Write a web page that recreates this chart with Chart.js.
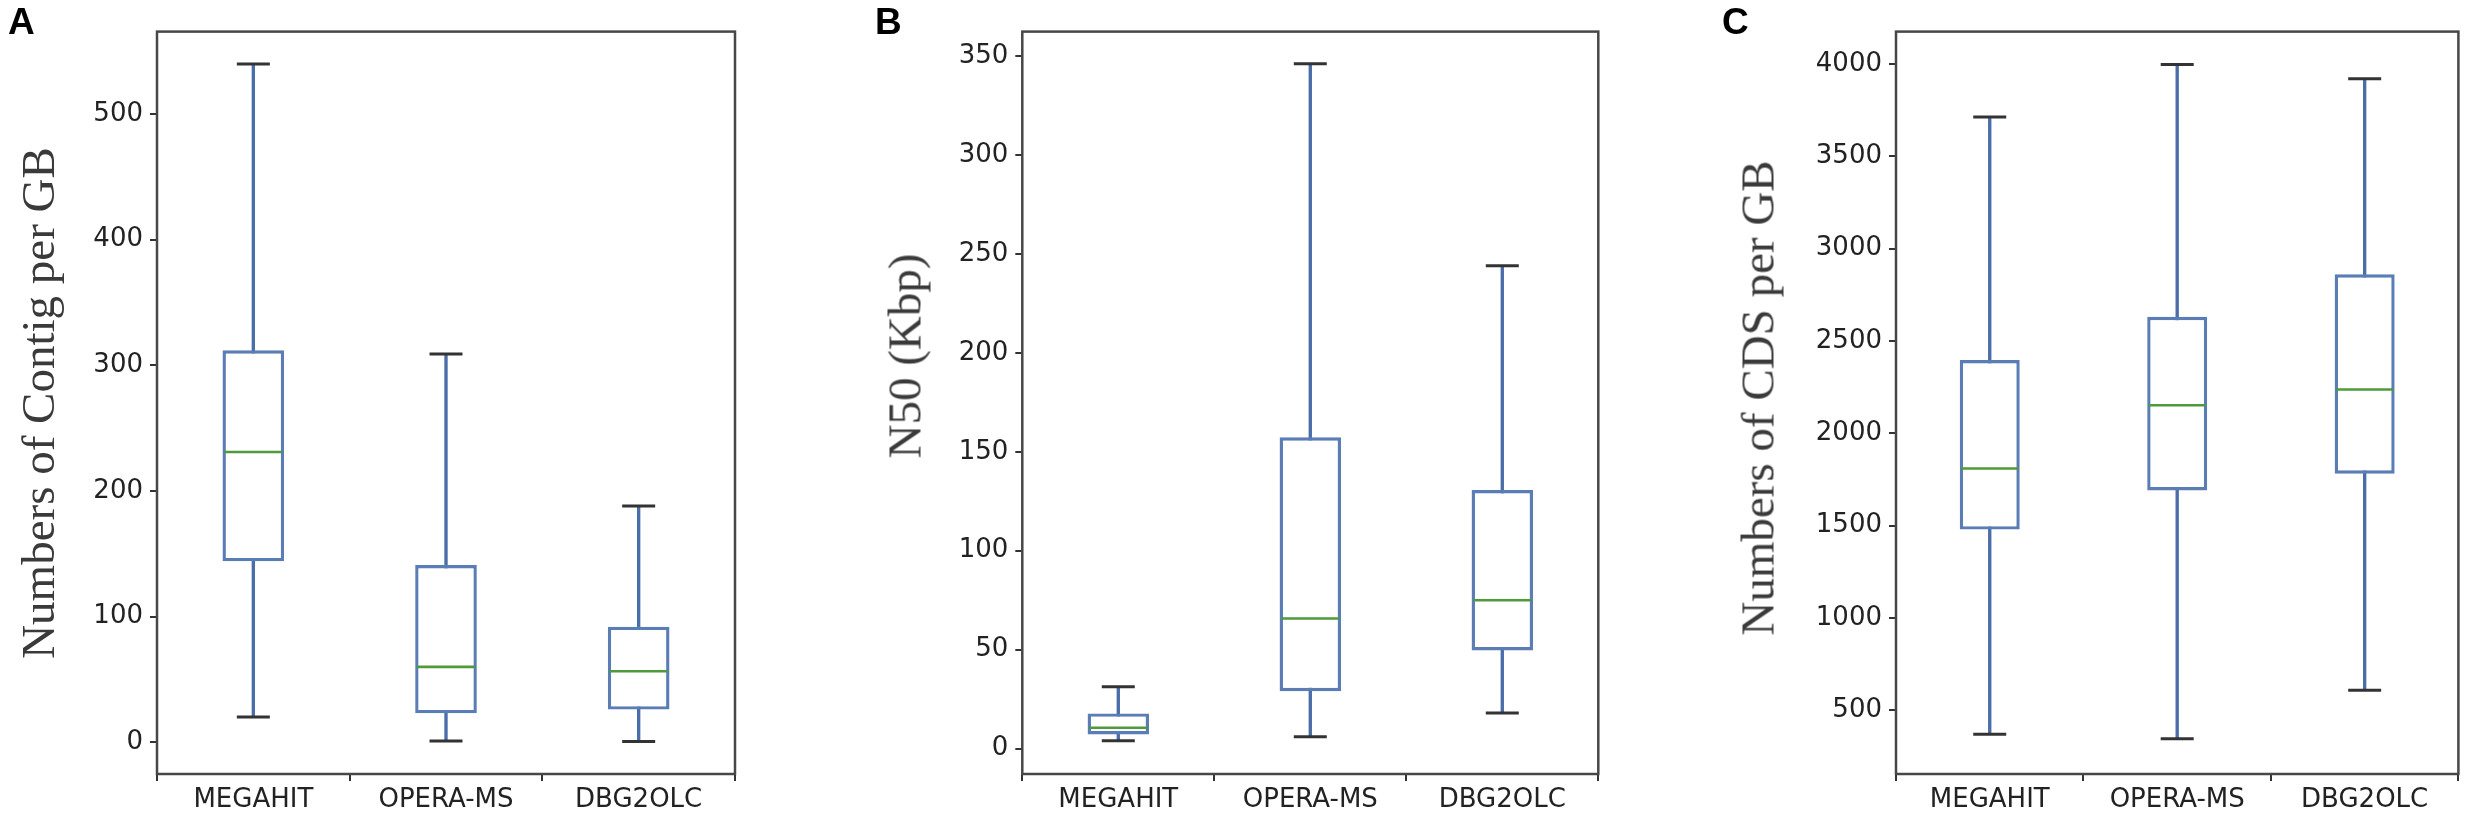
<!DOCTYPE html>
<html>
<head>
<meta charset="utf-8">
<script src="https://cdn.jsdelivr.net/npm/chart.js@4"></script>
<style>
  body { margin: 0; background: #fff; }
  #wrap { position: relative; width: 2490px; height: 835px; background: #fff; overflow: hidden; }
  .panel { position: absolute; top: 0; width: 830px; height: 835px; }
  .letter { position: absolute; top: 3px; font: bold 37px "Liberation Sans", Arial, sans-serif; line-height: 1; color: #000; }
  .ytitle { position: absolute; font: 47px "Liberation Serif", "Times New Roman", serif; color: #3a3a3a; white-space: nowrap;
            line-height: 1; transform: translate(-50%, -50%) rotate(-90deg); }
</style>
</head>
<body>
<div id="wrap">
  <div class="panel" style="left:0px"><canvas id="chartA" width="830" height="835"></canvas></div>
  <div class="panel" style="left:830px"><canvas id="chartB" width="830" height="835"></canvas></div>
  <div class="panel" style="left:1660px"><canvas id="chartC" width="830" height="835"></canvas></div>

  <div class="letter" style="left:8px">A</div>
  <div class="letter" style="left:875px">B</div>
  <div class="letter" style="left:1722px">C</div>

  <div class="ytitle" style="left:38px; top:403px">Numbers of Contig per GB</div>
  <div class="ytitle" style="left:905px; top:356px">N50 (Kbp)</div>
  <div class="ytitle" style="left:1758px; top:398px">Numbers of CDS per GB</div>
</div>

<script>
let categories = ['MEGAHIT', 'OPERA-MS', 'DBG2OLC'];

// A: contigs per GB
let contigMin = [20, 1, 0.5];
let contigQ1 = [144, 23, 26];
let contigMed = [231, 60, 56.5];
let contigQ3 = [312, 141, 92];
let contigMax = [540, 309, 188];
let contigTicks = [0, 100, 200, 300, 400, 500];

// B: N50 (Kbp)
let n50Min = [4, 6, 18];
let n50Q1 = [7.2, 29, 49.6];
let n50Med = [10.6, 65.8, 75];
let n50Q3 = [17.8, 157.3, 130.7];
let n50Max = [31.3, 346, 244];
let n50Ticks = [0, 50, 100, 150, 200, 250, 300, 350];

// C: CDS per GB
let cdsMin = [370, 345, 608];
let cdsQ1 = [1478, 1690, 1781];
let cdsMed = [1809, 2152, 2237];
let cdsQ3 = [2397, 2631, 2861];
let cdsMax = [3713, 3998, 3921];
let cdsTicks = [500, 1000, 1500, 2000, 2500, 3000, 3500, 4000];

let boxColor = '#5b7db5';
let whiskerColor = '#4a6ea8';
let capColor = '#333333';
let medianColor = '#4f9a3a';
let tickFont = { family: '"DejaVu Sans", sans-serif', size: 26 };

// draws the axes frame (all four spines) around the chart area
let framePlugin = {
    id: 'frame',
    afterDraw(chart) {
        let a = chart.chartArea;
        let c = chart.ctx;
        c.save();
        c.strokeStyle = '#474747';
        c.lineWidth = 2.5;
        c.strokeRect(a.left, a.top, a.right - a.left, a.bottom - a.top);
        c.restore();
    }
};

function boxChart(id, mins, q1s, meds, q3s, maxs, ticks, yMin, yMax, axisWidth, padRight) {
    let ctx = document.getElementById(id).getContext('2d');
    return new Chart(ctx, {
        type: 'bar',
        data: {
            labels: categories,
            datasets: [{
                // whisker line, drawn behind the box
                data: mins.map((v, i) => [v, maxs[i]]),
                backgroundColor: whiskerColor,
                borderWidth: 0,
                barThickness: 2.7,
                grouped: false,
                order: 4
            }, {
                data: q1s.map((v, i) => [v, q3s[i]]),
                backgroundColor: '#ffffff',
                borderColor: boxColor,
                borderWidth: 3.4,
                borderSkipped: false,
                barPercentage: 0.32,
                categoryPercentage: 1,
                grouped: false,
                order: 3
            }, {
                type: 'line',
                data: meds,
                showLine: false,
                pointStyle: 'line',
                pointRadius: 29,
                pointBorderWidth: 2.6,
                pointBorderColor: medianColor,
                order: 1
            }, {
                type: 'line',
                data: mins,
                showLine: false,
                pointStyle: 'line',
                pointRadius: 16.5,
                pointBorderWidth: 3,
                pointBorderColor: capColor,
                order: 2
            }, {
                type: 'line',
                data: maxs,
                showLine: false,
                pointStyle: 'line',
                pointRadius: 16.5,
                pointBorderWidth: 3,
                pointBorderColor: capColor,
                order: 2
            }]
        },
        options: {
            responsive: false,
            animation: false,
            devicePixelRatio: 1,
            layout: { padding: { top: 19, right: padRight, left: 0, bottom: 0 } },
            plugins: { legend: { display: false }, tooltip: { enabled: false } },
            scales: {
                x: {
                    offset: true,
                    grid: { drawOnChartArea: false, tickLength: 7, color: '#333', lineWidth: 2 },
                    border: { display: false },
                    ticks: { font: tickFont, color: '#222', padding: 4, maxRotation: 0 },
                    afterFit: s => { s.height = 61; }
                },
                y: {
                    min: yMin,
                    max: yMax,
                    grid: { drawOnChartArea: false, tickLength: 7, color: '#333', lineWidth: 2 },
                    border: { display: false },
                    ticks: { font: tickFont, color: '#222', padding: 7, callback: v => String(v) },
                    afterBuildTicks: s => { s.ticks = ticks.map(v => ({ value: v })); },
                    afterFit: s => { s.width = axisWidth; }
                }
            }
        },
        plugins: [framePlugin]
    });
}

let chartA = boxChart('chartA', contigMin, contigQ1, contigMed, contigQ3, contigMax, contigTicks, -25.3, 565.7, 157, 95);
let chartB = boxChart('chartB', n50Min, n50Q1, n50Med, n50Q3, n50Max, n50Ticks, -12.8, 362.3, 192.3, 61.7);
let chartC = boxChart('chartC', cdsMin, cdsQ1, cdsMed, cdsQ3, cdsMax, cdsTicks, 154, 4176, 236, 18.3);
</script>
</body>
</html>
